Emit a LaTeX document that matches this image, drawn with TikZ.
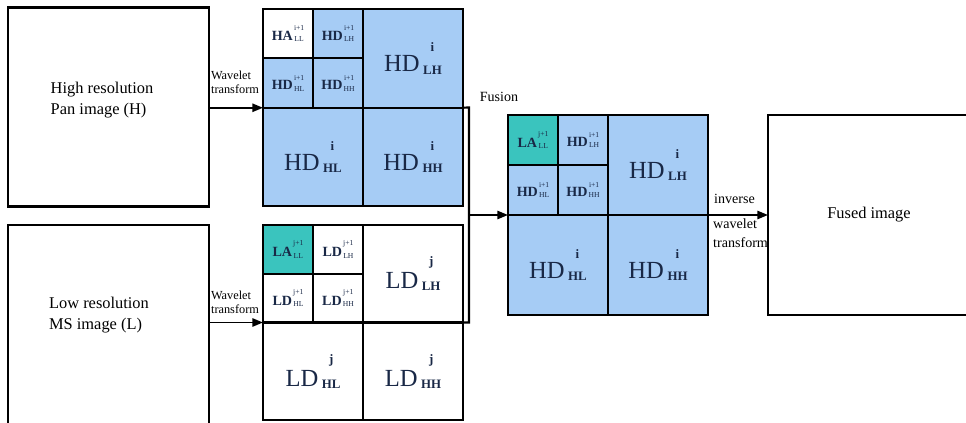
\documentclass[tikz,border=0pt]{standalone}
\usepackage{fontspec}
\setmainfont{Liberation Serif}
\usepackage{tikz}
\usetikzlibrary{arrows.meta}
\usepackage{xcolor}
\definecolor{bandblue}{RGB}{166,204,245}
\definecolor{bandteal}{RGB}{58,196,190}
\definecolor{bandtext}{RGB}{25,40,70}
\newcommand{\bigband}[3]{{\fontsize{21}{21}\selectfont #1}\hspace{3pt}\raisebox{-2pt}{\bfseries\fontsize{11}{11}\selectfont\shortstack{#2\\[9pt]#3}}}
\newcommand{\smallband}[3]{{\bfseries\fontsize{12}{12}\selectfont #1}\hspace{1pt}\raisebox{-1pt}{\fontsize{6.5}{6.5}\selectfont\shortstack{#2\\[2pt]#3}}}

\begin{document}
\begin{tikzpicture}[x=0.03cm,y=-0.03cm]
	\tikzstyle{image box}=[draw,line width=1.8pt,minimum width=6.03cm,minimum height=5.97cm,inner sep=0pt,outer sep=0pt]
	\tikzstyle{image text}=[align=left,inner sep=0pt,font=\fontsize{14}{18}\selectfont]
	\tikzstyle{big cell}=[draw,line width=1.8pt,minimum width=3cm,minimum height=2.96cm,inner sep=0pt,outer sep=0pt,text=bandtext]
	\tikzstyle{small cell}=[big cell,minimum width=1.5cm,minimum height=1.48cm]
	\tikzstyle{low big cell}=[big cell,minimum height=2.925cm]
	\tikzstyle{low small cell}=[small cell,minimum height=1.4625cm]
	\tikzstyle{edge}=[draw,line width=1.8pt,-,black]
	\tikzstyle{arrow}=[draw,line width=1.5pt,-{Triangle[length=9pt,width=7pt]},black]
	\tikzstyle{step text}=[align=left,inner sep=0pt,font=\fontsize{10.5}{12}\selectfont]

	\useasboundingbox (0,0) rectangle (966,423);

	\node[image box] (H) at (108.5,107) {};
	\node[image text] (Htext) at (102,100) {High resolution\\Pan image (H)};
	\node[image box] (L) at (108.5,324.5) {};
	\node[image text] (Ltext) at (99,315) {Low resolution\\MS image (L)};

	\node[small cell] (tLL) at (288,33.7) 	{\smallband{HA}{i+1}{LL}};
	\node[small cell,fill=bandblue] (tLH1) at (338,33.7) 	{\smallband{HD}{i+1}{LH}};
	\node[small cell,fill=bandblue] (tHL1) at (288,83.1) 	{\smallband{HD}{i+1}{HL}};
	\node[small cell,fill=bandblue] (tHH1) at (338,83.1) 	{\smallband{HD}{i+1}{HH}};
	\node[big cell,fill=bandblue] (tLH) at (413,58.4) 	{\bigband{HD}{i}{LH}};
	\node[big cell,fill=bandblue] (tHL) at (313,157.1) 	{\bigband{HD}{i}{HL}};
	\node[big cell,fill=bandblue] (tHH) at (413,157.1) 	{\bigband{HD}{i}{HH}};

	\node[low small cell,fill=bandteal] (bLL) at (288,249.4) 	{\smallband{LA}{j+1}{LL}};
	\node[low small cell] (bLH1) at (338,249.4) 	{\smallband{LD}{j+1}{LH}};
	\node[low small cell] (bHL1) at (288,298.1) 	{\smallband{LD}{j+1}{HL}};
	\node[low small cell] (bHH1) at (338,298.1) 	{\smallband{LD}{j+1}{HH}};
	\node[low big cell] (bLH) at (413,273.75) 	{\bigband{LD}{j}{LH}};
	\node[low big cell] (bHL) at (313,371.25) 	{\bigband{LD}{j}{HL}};
	\node[low big cell] (bHH) at (413,371.25) 	{\bigband{LD}{j}{HH}};

	\node[small cell,fill=bandteal] (fLL) at (533,140) 	{\smallband{LA}{j+1}{LL}};
	\node[small cell,fill=bandblue] (fLH1) at (583,140) 	{\smallband{HD}{i+1}{LH}};
	\node[small cell,fill=bandblue] (fHL1) at (533,190) 	{\smallband{HD}{i+1}{HL}};
	\node[small cell,fill=bandblue] (fHH1) at (583,190) 	{\smallband{HD}{i+1}{HH}};
	\node[big cell,fill=bandblue,minimum height=3cm] (fLH) at (658,165) 	{\bigband{HD}{i}{LH}};
	\node[big cell,fill=bandblue,minimum height=3cm] (fHL) at (558,265) 	{\bigband{HD}{i}{HL}};
	\node[big cell,fill=bandblue,minimum height=3cm] (fHH) at (658,265) 	{\bigband{HD}{i}{HH}};

	\node[draw,line width=1.8pt,outer sep=0pt,minimum width=6.06cm,minimum height=6cm,font=\fontsize{14}{16}\selectfont] (F) at (869,215) {Fused image};

	\node[step text] (wt1) at (235,82) 	{Wavelet\\transform};
	\node[step text] (wt2) at (235,302) 	{Wavelet\\transform};
	\node[font=\fontsize{12}{14}\selectfont,inner sep=0pt] (fus) at (499,97) {Fusion};
	\node[font=\fontsize{12}{14}\selectfont,inner sep=0pt,anchor=west] (inv) at (714,199) {inverse};
	\node[font=\fontsize{12}{16}\selectfont,inner sep=0pt,anchor=north west,align=left] (iwt) at (713,219) {wavelet\\transform};

	\coordinate (bt) at (469,107.4);
	\coordinate (bb) at (469,322.5);

	\draw[arrow] (tHL.north west -| H.east) -- (tHL.north west);
	\draw[arrow] (bHL.north west -| L.east) -- (bHL.north west);
	\draw[edge] (tHH.north east) -- (bt) -- (bb) -- (bLH.south east);
	\draw[arrow] (bt |- fHL.north west) -- (fHL.north west);
	\draw[arrow] (fHH.north east) -- (F.west);
\end{tikzpicture}
\end{document}
